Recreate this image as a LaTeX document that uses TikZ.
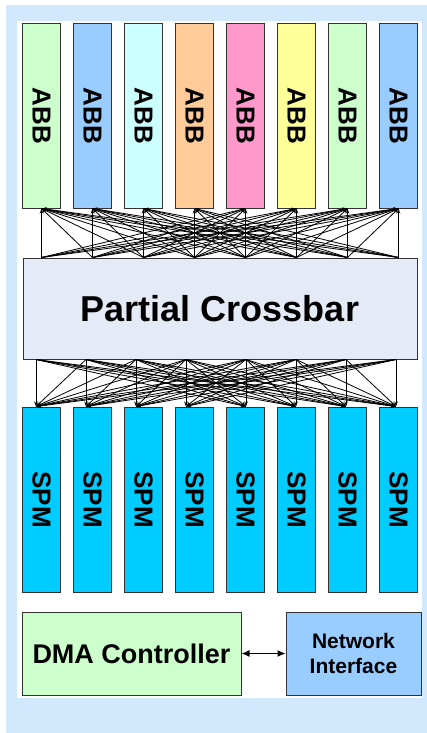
\documentclass[tikz,border=0pt]{standalone}
\usepackage{fontspec}
\setmainfont{Liberation Sans}
\usetikzlibrary{arrows.meta}

\definecolor{panelblue}{RGB}{210,232,252}
\definecolor{boxline}{RGB}{51,51,51}
\definecolor{xbarfill}{RGB}{228,234,246}
\definecolor{abbgreen}{RGB}{204,255,204}
\definecolor{abbblue}{RGB}{153,204,255}
\definecolor{abbcyan}{RGB}{204,255,255}
\definecolor{abborange}{RGB}{255,204,153}
\definecolor{abbpink}{RGB}{255,153,204}
\definecolor{abbyellow}{RGB}{255,255,153}
\definecolor{spmcyan}{RGB}{0,204,255}

\tikzset{
        block/.style={draw=boxline, line width=1pt, inner sep=0pt, align=center},
        % Accelerator building blocks
        abb/.style={block, minimum width=38.5pt, minimum height=184pt, font=\fontsize{26}{30}\selectfont\bfseries},
        % Scratchpad memories
        spm/.style={block, fill=spmcyan, minimum width=38.5pt, minimum height=185pt, font=\fontsize{26}{30}\selectfont\bfseries},
        % Crossbar
        xbar/.style={block, fill=xbarfill, minimum width=394pt, minimum height=101pt, font=\fontsize{36}{40}\selectfont\bfseries},
        % DMA and network interface
        dma/.style={block, fill=abbgreen, minimum width=219pt, minimum height=83pt, font=\fontsize{27}{31}\selectfont\bfseries},
        nic/.style={block, fill=abbblue, minimum width=135pt, minimum height=83pt, font=\fontsize{21}{25}\selectfont\bfseries},
        % Crossbar wires
        wire/.style={line width=0.8pt, -{Stealth[length=5pt,width=3.5pt]}},
        link/.style={line width=1.2pt, {Latex[length=8pt,width=7pt]}-{Latex[length=8pt,width=7pt]}}
}

\begin{document}
\begin{tikzpicture}[x=1pt, y=-1pt]
    \useasboundingbox (0,0) rectangle (427,733);
    \fill[panelblue] (6,5) rectangle (427,733);
    \fill[white] (17,21) rectangle (422,698);

    % top row
    \foreach \i/\c in {1/abbgreen, 2/abbblue, 3/abbcyan, 4/abborange, 5/abbpink, 6/abbyellow, 7/abbgreen, 8/abbblue}
        \node[abb, fill=\c] (abb\i) at ({41.5+51*(\i-1)}, 116) {\rotatebox{-90}{ABB}};

    \node[xbar] (xbar) at (220, 308.5) {Partial Crossbar};

    % bottom row
    \foreach \i in {1,...,8}
        \node[spm] (spm\i) at ({41.5+51*(\i-1)}, 499.5) {\rotatebox{-90}{SPM}};

    % crossbar ports
    \foreach \j in {1,...,8}
        \coordinate (top\j) at (abb\j.south |- xbar.north);
    \foreach \j/\x in {1/36, 2/86, 3/136, 4/186, 5/246, 6/296, 7/346, 8/396} {
        \coordinate (bot\j) at (\x,0 |- xbar.south);
        \coordinate (port\j) at (\x,0 |- spm\j.north);
    }

    % left half fans to the right, right half to the left
    \foreach \i in {1,...,4}
        \foreach \j in {\i,...,8} {
            \draw[wire] (top\j) -- (abb\i.south);
            \draw[wire] (bot\j) -- (port\i);
        }
    \foreach \i in {5,...,8}
        \foreach \j in {1,...,\i} {
            \draw[wire] (top\j) -- (abb\i.south);
            \draw[wire] (bot\j) -- (port\i);
        }

    \node[dma] (dma) at (131.5, 653.5) {DMA Controller};
    \node[nic] (nic) at (353.5, 653.5) {Network\\Interface};
    \draw[link] (dma) -- (nic);
\end{tikzpicture}
\end{document}
